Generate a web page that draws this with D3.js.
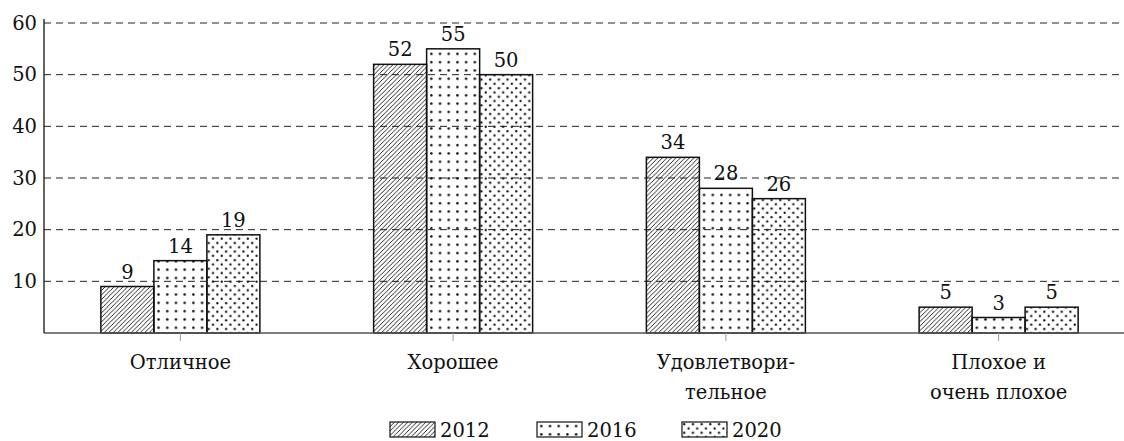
<!DOCTYPE html>
<html>
<head>
<meta charset="utf-8">
<script src="https://cdn.jsdelivr.net/npm/d3@7"></script>
<style>
  html, body { margin: 0; padding: 0; background: #fff; }
  svg text { font-family: "DejaVu Serif", "Liberation Serif", serif; fill: #111; }
</style>
</head>
<body>
<div id="chart"></div>
<script>
// categories (lines of each wrapped label), series and ticks
var categories = ["Отличное", "Хорошее", "Удовлетворительное", "Плохое и очень плохое"];
var categoryLines = [["Отличное"], ["Хорошее"], ["Удовлетвори-", "тельное"], ["Плохое и", "очень плохое"]];
var years = ["2012", "2016", "2020"];
var values2012 = [9, 52, 34, 5];
var values2016 = [14, 55, 28, 3];
var values2020 = [19, 50, 26, 5];
var yTicks = [10, 20, 30, 40, 50, 60];

var series = [values2012, values2016, values2020];
var patternIds = ["p2012", "p2016", "p2020"];

var W = 1124, H = 441, FS = 19.5;
var plotL = 44, plotR = 1135, plotT = 23, plotB = 333, gridEnd = 1122;

var svg = d3.select("#chart").append("svg").attr("width", W).attr("height", H);
var defs = svg.append("defs");

// hatch: north-east lines
var p1 = defs.append("pattern").attr("id", "p2012").attr("patternUnits", "userSpaceOnUse")
  .attr("width", 4.5).attr("height", 4.5);
p1.append("path").attr("d", "M-1,1 L1,-1 M0,4.5 L4.5,0 M3.5,5.5 L5.5,3.5")
  .attr("stroke", "#111").attr("stroke-width", 0.9);

// sparse dots
var p2 = defs.append("pattern").attr("id", "p2016").attr("patternUnits", "userSpaceOnUse")
  .attr("width", 8.7).attr("height", 8.3);
p2.append("circle").attr("cx", 4.3).attr("cy", 4.1).attr("r", 1.25).attr("fill", "#111");

// dense staggered dots
var p3 = defs.append("pattern").attr("id", "p2020").attr("patternUnits", "userSpaceOnUse")
  .attr("width", 8.7).attr("height", 8.6);
p3.append("circle").attr("cx", 2.2).attr("cy", 2.1).attr("r", 1.15).attr("fill", "#111");
p3.append("circle").attr("cx", 6.55).attr("cy", 6.4).attr("r", 1.15).attr("fill", "#111");

var x = d3.scaleBand().domain(categories).range([plotL, plotR]);
var xs = d3.scaleBand().domain(years).range([-79.5, 79.5]);
var y = d3.scaleLinear().domain([0, 60]).range([plotB, plotT]);

// grid
svg.append("g").selectAll("line").data(yTicks).join("line")
  .attr("x1", plotL).attr("x2", gridEnd)
  .attr("y1", function (d) { return y(d); }).attr("y2", function (d) { return y(d); })
  .attr("stroke", "#222").attr("stroke-width", 1).attr("stroke-dasharray", "7,5");

// y tick labels
svg.append("g").selectAll("text").data(yTicks).join("text")
  .attr("x", 37).attr("y", function (d) { return y(d); }).attr("dy", "0.35em")
  .attr("text-anchor", "end").attr("font-size", FS).text(function (d) { return d; });

// bars
var groups = svg.append("g").selectAll("g").data(categories).join("g")
  .attr("transform", function (c) { return "translate(" + (x(c) + x.bandwidth() / 2) + ",0)"; });

groups.each(function (c, ci) {
  var g = d3.select(this);
  years.forEach(function (yr, si) {
    var v = series[si][ci];
    g.append("rect")
      .attr("x", xs(yr)).attr("width", xs.bandwidth())
      .attr("y", y(v)).attr("height", y(0) - y(v))
      .attr("fill", "url(#" + patternIds[si] + ")")
      .attr("stroke", "#111").attr("stroke-width", 1.5);
    g.append("text")
      .attr("x", xs(yr) + xs.bandwidth() / 2).attr("y", y(v) - 8)
      .attr("text-anchor", "middle").attr("font-size", FS).text(v);
  });
});

// axes lines
svg.append("line").attr("x1", plotL).attr("x2", W).attr("y1", plotB).attr("y2", plotB)
  .attr("stroke", "#555").attr("stroke-width", 1.3);
svg.append("line").attr("x1", plotL).attr("x2", plotL).attr("y1", plotT - 4).attr("y2", plotB)
  .attr("stroke", "#111").attr("stroke-width", 1.3);

// category ticks and labels
var cats = svg.append("g").selectAll("g").data(categories).join("g")
  .attr("transform", function (c) { return "translate(" + (x(c) + x.bandwidth() / 2) + ",0)"; });
cats.append("line").attr("y1", plotB).attr("y2", plotB + 8).attr("stroke", "#999").attr("stroke-width", 1);
cats.each(function (c, i) {
  var t = d3.select(this).append("text").attr("text-anchor", "middle").attr("font-size", FS);
  categoryLines[i].forEach(function (ln, k) {
    t.append("tspan").attr("x", 0).attr("y", 369 + k * 30).text(ln);
  });
});

// legend
var legendX = [390, 537, 682];
var leg = svg.append("g").selectAll("g").data(years).join("g")
  .attr("transform", function (d, i) { return "translate(" + legendX[i] + ",422)"; });
leg.append("rect").attr("width", 45).attr("height", 15)
  .attr("fill", function (d, i) { return "url(#" + patternIds[i] + ")"; })
  .attr("stroke", "#111").attr("stroke-width", 1.2);
leg.append("text").attr("x", 50).attr("y", 15).attr("font-size", FS).text(function (d) { return d; });
</script>
</body>
</html>
